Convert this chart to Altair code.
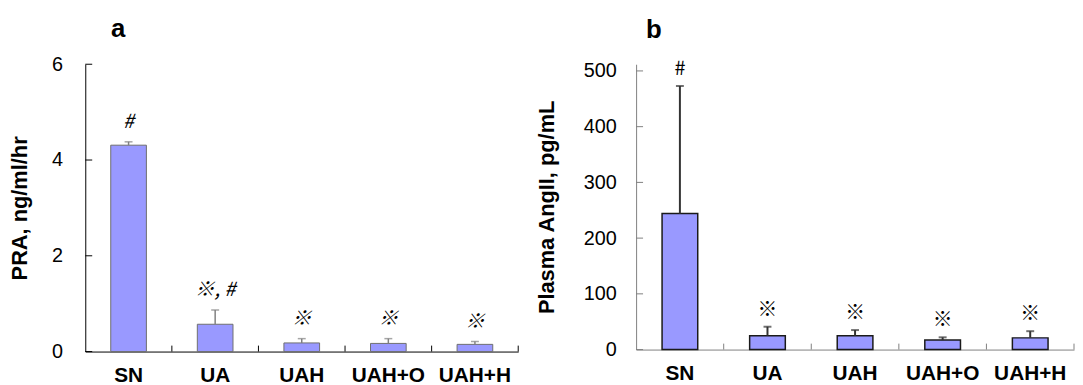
import altair as alt
import pandas as pd

groups = ["SN", "UA", "UAH", "UAH+O", "UAH+H"]

pra_mean = [4.31, 0.57, 0.18, 0.17, 0.15]
pra_upper = [4.38, 0.87, 0.27, 0.27, 0.21]
pra_marks = ["#", "※, #", "※", "※", "※"]
pra_ticks = [0, 2, 4, 6]
pra_domain = [0, 6]

ang_mean = [244, 25, 25, 17, 21]
ang_upper = [473, 41, 35, 22, 33]
ang_marks = ["#", "※", "※", "※", "※"]
ang_ticks = [0, 100, 200, 300, 400, 500]
ang_domain = [0, 512]

FONT = "Liberation Sans"
MARKFONT = "Noto Sans CJK SC"


def panel(mean, upper, marks, ticks, domain, letter, ytitle, width, height,
          title_offset, title_dx, label_pad, title_pad, bar_stroke, bar_sw,
          err_color, err_sw, axis_color, mark_style, mark_dy):
    df = pd.DataFrame({"group": groups, "mean": mean, "upper": upper, "mark": marks})
    tdf = pd.DataFrame({"v": ticks})
    yscale = alt.Scale(domain=domain, nice=False, zero=True)
    xscale = alt.Scale(paddingInner=0, paddingOuter=0)

    bars = alt.Chart(df).mark_bar(
        size=36, color="#9999FF", stroke=bar_stroke, strokeWidth=bar_sw
    ).encode(
        x=alt.X("group:N", sort=groups, scale=xscale,
                axis=alt.Axis(title=None, labelAngle=0, labelFont=FONT,
                              labelFontSize=21, labelFontWeight="bold",
                              labelColor="#000000", ticks=False, tickSize=0,
                              labelPadding=13, domainColor=axis_color,
                              domainWidth=1, grid=False)),
        y=alt.Y("mean:Q", scale=yscale,
                axis=alt.Axis(values=ticks, title=ytitle, titleFont=FONT,
                              titleFontSize=22, titleFontWeight="bold",
                              titleColor="#000000", titlePadding=title_pad,
                              labelFont=FONT, labelFontSize=20,
                              labelColor="#000000", ticks=False, tickSize=0,
                              labelPadding=label_pad, domainColor=axis_color,
                              domainWidth=1, grid=False)),
    )

    # inward y ticks
    yt = alt.Chart(tdf).mark_rule(color=axis_color, strokeWidth=1).encode(
        x=alt.value(0), x2=alt.value(7),
        y=alt.Y("v:Q", scale=yscale, axis=None),
    )

    # inward x ticks at category boundaries
    xt = alt.Chart(df).mark_rule(color=axis_color, strokeWidth=1).encode(
        x=alt.X("group:N", sort=groups, scale=xscale, bandPosition=1, axis=None),
        y=alt.value(height), y2=alt.value(height - 6),
    )

    err = alt.Chart(df).mark_rule(color=err_color, strokeWidth=err_sw).encode(
        x=alt.X("group:N", sort=groups, scale=xscale, axis=None),
        y=alt.Y("mean:Q", scale=yscale, axis=None),
        y2="upper:Q",
    )

    caps = alt.Chart(df).mark_tick(color=err_color, thickness=err_sw, size=8).encode(
        x=alt.X("group:N", sort=groups, scale=xscale, axis=None),
        y=alt.Y("upper:Q", scale=yscale, axis=None),
    )

    labels = alt.Chart(df).mark_text(
        font=MARKFONT, fontSize=20, dy=mark_dy, color="#000000", fontStyle=mark_style
    ).encode(
        x=alt.X("group:N", sort=groups, scale=xscale, axis=None),
        y=alt.Y("upper:Q", scale=yscale, axis=None),
        text="mark:N",
    )

    return alt.layer(bars, yt, xt, err, caps, labels).resolve_axis(
        x="independent", y="independent"
    ).properties(
        width=width, height=height,
        title=alt.TitleParams(letter, anchor="start", dx=title_dx, font=FONT,
                              fontSize=26, fontWeight="bold", color="#000000",
                              offset=title_offset, frame="group"),
    )


pa = panel(pra_mean, pra_upper, pra_marks, pra_ticks, pra_domain, "a",
           "PRA, ng/ml/hr", 437, 290, 12, 26, 23, 20, "#6e6e6e", 1,
           "#808080", 1.5, "#000000", "italic", -20)
pb = panel(ang_mean, ang_upper, ang_marks, ang_ticks, ang_domain, "b",
           "Plasma AngII, pg/mL", 442, 288, 16, 10, 20, 25, "#1a1a1a", 1.5,
           "#333333", 2, "#808080", "normal", -17)

chart = alt.hconcat(pa, pb, spacing=16).properties(
    padding={"left": 0, "top": 7, "right": 0, "bottom": 0}
).configure(background="white").configure_view(strokeWidth=0)

chart.save("out.html", embed_options={"renderer": "svg", "actions": False})
